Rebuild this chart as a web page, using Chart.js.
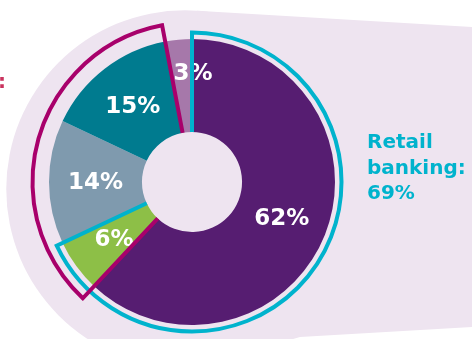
<!DOCTYPE html>
<html>
<head>
<meta charset="utf-8">
<script src="https://cdn.jsdelivr.net/npm/chart.js@4"></script>
<style>
  html, body { margin: 0; padding: 0; background: #fff; }
  #wrap { width: 472px; height: 339px; }
</style>
</head>
<body>
<div id="wrap"><canvas id="chart" width="472" height="339"></canvas></div>
<script>
// slices, clockwise from 12 o'clock
const segments = ['Retail A', 'Retail B', 'Corporate A', 'Corporate B', 'Other'];
const shares = [62, 6, 14, 15, 3];
const shareLabels = ['62%', '6%', '14%', '15%', '3%'];
const sliceColors = ['#561d71', '#8dbf47', '#7f9aae', '#007b8f', '#a678aa'];

// groups that get an outline
const retailSlices = [0, 1];
const corporateSlices = [1, 2, 3];
const retailText = ['Retail', 'banking:', '69%'];
const corporateText = ['Corporate banking:', '35%'];

const LAVENDER = '#eee4f0';
const CYAN = '#00b3cd';
const MAGENTA = '#a8006b';

function outline(ctx, cx, cy, a0, a1, rIn, rOut, color) {
  ctx.beginPath();
  ctx.moveTo(cx + rIn * Math.cos(a0), cy + rIn * Math.sin(a0));
  ctx.lineTo(cx + rOut * Math.cos(a0), cy + rOut * Math.sin(a0));
  ctx.arc(cx, cy, rOut, a0, a1);
  ctx.lineTo(cx + rIn * Math.cos(a1), cy + rIn * Math.sin(a1));
  ctx.strokeStyle = color;
  ctx.lineWidth = 4;
  ctx.lineJoin = 'miter';
  ctx.lineCap = 'butt';
  ctx.stroke();
}

const decor = {
  id: 'decor',
  beforeDraw(chart) {
    const ctx = chart.ctx;
    const arcs = chart.getDatasetMeta(0).data;
    const { x: cx, y: cy, outerRadius: R } = arcs[0];
    const W = chart.width;
    // pale callout shape behind the ring
    const bx = cx - 7, by = cy + 7, br = R * 1.25;
    const t = Math.atan(0.068);
    ctx.save();
    ctx.fillStyle = LAVENDER;
    ctx.beginPath();
    ctx.arc(bx, by, br, 0, Math.PI * 2);
    ctx.fill();
    ctx.beginPath();
    ctx.moveTo(bx + br * Math.sin(t), by - br * Math.cos(t));
    ctx.lineTo(W, cy - 155);
    ctx.lineTo(W, cy + 145);
    ctx.lineTo(cx + 108, cy + 155);
    ctx.lineTo(bx + br * Math.sin(0.058), by + br * Math.cos(0.058));
    ctx.closePath();
    ctx.fill();
    ctx.restore();
  },
  afterDatasetsDraw(chart) {
    const ctx = chart.ctx;
    const arcs = chart.getDatasetMeta(0).data;
    const { x: cx, y: cy, outerRadius: R, innerRadius: r } = arcs[0];
    ctx.save();

    // percentage labels
    ctx.fillStyle = '#fff';
    ctx.font = 'bold 23px "DejaVu Sans"';
    ctx.textAlign = 'center';
    ctx.textBaseline = 'middle';
    arcs.forEach((a, i) => {
      const p = a.tooltipPosition();
      let dx = 0, dy = 0;
      if (shares[i] < 5) { dx = 10; dy = -13; }
      ctx.fillText(shareLabels[i], p.x + dx, p.y + dy + 1);
    });

    // group outlines
    const rs = retailSlices, cs = corporateSlices;
    outline(ctx, cx, cy, arcs[rs[0]].startAngle, arcs[rs[rs.length - 1]].endAngle, r, R + 6.5, CYAN);
    outline(ctx, cx, cy, arcs[cs[0]].startAngle, arcs[cs[cs.length - 1]].endAngle, r, R + 16.5, MAGENTA);

    // group captions
    ctx.font = 'bold 20px "DejaVu Sans"';
    ctx.textBaseline = 'alphabetic';
    ctx.textAlign = 'left';
    ctx.fillStyle = CYAN;
    retailText.forEach((s, i) => ctx.fillText(s, cx + 175, cy - 34 + i * 25.5));

    ctx.fillStyle = '#c9325d';
    const w0 = ctx.measureText(corporateText[0]).width;
    corporateText.forEach((s, i) => ctx.fillText(s, 6 - w0, cy - 94 + i * 25.5));
    ctx.restore();
  }
};

new Chart(document.getElementById('chart'), {
  type: 'doughnut',
  data: {
    labels: segments,
    datasets: [{
      data: shares,
      backgroundColor: sliceColors,
      borderWidth: 0
    }]
  },
  options: {
    responsive: false,
    animation: false,
    cutout: '35%',
    layout: { padding: { left: 49, right: 137, top: 39, bottom: 14 } },
    plugins: { legend: { display: false }, tooltip: { enabled: false } }
  },
  plugins: [decor]
});
</script>
</body>
</html>
